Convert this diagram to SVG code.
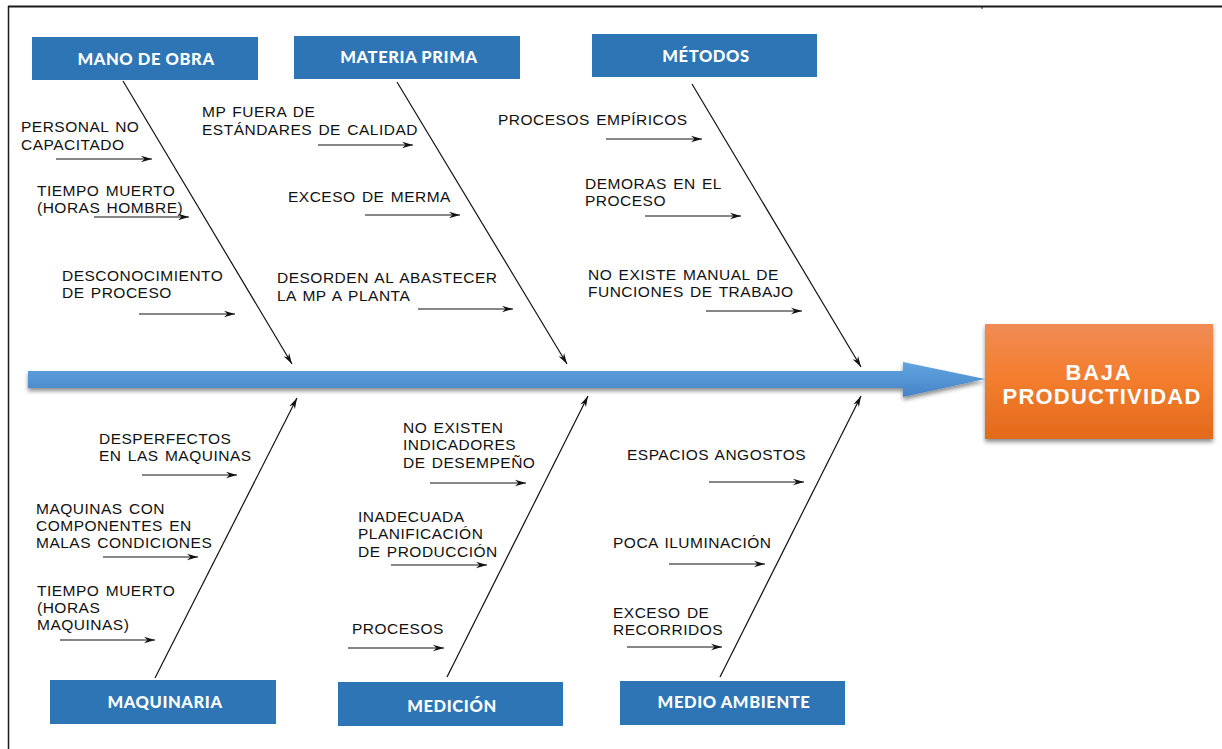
<svg xmlns="http://www.w3.org/2000/svg" width="1222" height="749" viewBox="0 0 1222 749">
<defs>
<style>
.cat{fill:#2E75B6;}
.ct{font-family:Lato,"Open Sans","DejaVu Sans",sans-serif;font-weight:900;font-size:16.5px;letter-spacing:0.6px;fill:#fff;text-anchor:middle;}
.lb{font-family:"Liberation Sans",Arial,sans-serif;font-size:15.5px;letter-spacing:0.5px;word-spacing:1.5px;fill:#111;}
.sm{stroke:#111;stroke-width:1.2;fill:none;marker-end:url(#ah);}
.dg{stroke:#111;stroke-width:1.2;fill:none;marker-end:url(#ah);}
</style>
<marker id="ah" markerUnits="userSpaceOnUse" markerWidth="14" markerHeight="10" viewBox="-12 -5 14 10" refX="0" refY="0" orient="auto">
<path d="M0,0 L-11,-3.2 L-7.5,0 L-11,3.2 Z" fill="#111"/>
</marker>
<linearGradient id="gb" x1="0" y1="0" x2="0" y2="1">
<stop offset="0" stop-color="#62A5DF"/>
<stop offset="1" stop-color="#4584C8"/>
</linearGradient>
<linearGradient id="go" x1="0" y1="0" x2="0" y2="1">
<stop offset="0" stop-color="#EF8B55"/>
<stop offset="0.45" stop-color="#F47E2F"/>
<stop offset="1" stop-color="#E3691B"/>
</linearGradient>
<filter id="sh" x="-5%" y="-20%" width="110%" height="150%">
<feDropShadow dx="0" dy="3" stdDeviation="2" flood-color="#000" flood-opacity="0.45"/>
</filter>
</defs>
<rect width="1222" height="749" fill="#fff"/>
<g id="frame" stroke="#1a1a1a" fill="none">
<line x1="8" y1="6.5" x2="1222" y2="6.5" stroke-width="2.2"/>
<line x1="8.5" y1="6" x2="8.5" y2="749" stroke-width="1.5"/>
<line x1="982" y1="6" x2="982" y2="9" stroke-width="1"/>
</g>
<g id="spine">
<path d="M28,371 L903,371 L903,362 L985,379 L903,397 L903,388 L28,388 Z" fill="url(#gb)" filter="url(#sh)"/>
</g>
<g id="effect">
<rect x="985" y="324" width="228" height="115" fill="url(#go)" filter="url(#sh)"/>
<text x="1099" y="380" font-family="Liberation Sans,Arial,sans-serif" font-weight="bold" font-size="22" fill="#fff" text-anchor="middle" letter-spacing="1.8">BAJA</text>
<text x="1102" y="404" font-family="Liberation Sans,Arial,sans-serif" font-weight="bold" font-size="22" fill="#fff" text-anchor="middle" letter-spacing="1.2">PRODUCTIVIDAD</text>
</g>
<g id="connectors">
<line class="dg" x1="123" y1="81" x2="292" y2="364"/>
<line class="dg" x1="397" y1="82" x2="567" y2="364"/>
<line class="dg" x1="692" y1="84" x2="861" y2="367"/>
<line class="dg" x1="155" y1="678" x2="297" y2="398"/>
<line class="dg" x1="447" y1="677" x2="588" y2="396"/>
<line class="dg" x1="720" y1="677" x2="861" y2="396"/>
<line class="sm" x1="56" y1="159" x2="152" y2="159"/>
<line class="sm" x1="94" y1="217" x2="189" y2="217"/>
<line class="sm" x1="139" y1="314" x2="235" y2="314"/>
<line class="sm" x1="318" y1="145" x2="413" y2="145"/>
<line class="sm" x1="365" y1="215" x2="460" y2="215"/>
<line class="sm" x1="418" y1="309" x2="513" y2="309"/>
<line class="sm" x1="606" y1="139" x2="702" y2="139"/>
<line class="sm" x1="645" y1="216" x2="741" y2="216"/>
<line class="sm" x1="706" y1="311" x2="802" y2="311"/>
<line class="sm" x1="142" y1="475" x2="237" y2="475"/>
<line class="sm" x1="103" y1="557" x2="198" y2="557"/>
<line class="sm" x1="60" y1="640" x2="155" y2="640"/>
<line class="sm" x1="430" y1="483" x2="526" y2="483"/>
<line class="sm" x1="391" y1="565" x2="487" y2="565"/>
<line class="sm" x1="348" y1="648" x2="444" y2="648"/>
<line class="sm" x1="709" y1="482" x2="804" y2="482"/>
<line class="sm" x1="669" y1="564" x2="765" y2="564"/>
<line class="sm" x1="627" y1="647" x2="722" y2="647"/>
</g>
<g id="mano-de-obra">
<rect class="cat" x="32" y="37" width="226" height="43"/>
<text class="ct" x="146" y="65">MANO DE OBRA</text>
</g>
<g id="materia-prima">
<rect class="cat" x="294" y="36" width="226" height="43"/>
<text class="ct" x="409" y="63">MATERIA PRIMA</text>
</g>
<g id="metodos">
<rect class="cat" x="592" y="34" width="225" height="43"/>
<text class="ct" x="706" y="62">MÉTODOS</text>
</g>
<g id="maquinaria">
<rect class="cat" x="50" y="680" width="226" height="44"/>
<text class="ct" x="165" y="708">MAQUINARIA</text>
</g>
<g id="medicion">
<rect class="cat" x="338" y="682" width="225" height="44"/>
<text class="ct" x="452" y="712">MEDICIÓN</text>
</g>
<g id="medio-ambiente">
<rect class="cat" x="620" y="681" width="225" height="44"/>
<text class="ct" x="734" y="708">MEDIO AMBIENTE</text>
</g>
<g id="causes-mano-de-obra">
<text class="lb" x="21" y="132">PERSONAL NO</text>
<text class="lb" x="21" y="150">CAPACITADO</text>
<text class="lb" x="37" y="196">TIEMPO MUERTO</text>
<text class="lb" x="37" y="213">(HORAS HOMBRE)</text>
<text class="lb" x="62" y="281">DESCONOCIMIENTO</text>
<text class="lb" x="62" y="298">DE PROCESO</text>
</g>
<g id="causes-materia-prima">
<text class="lb" x="202" y="117">MP FUERA DE</text>
<text class="lb" x="202" y="135">ESTÁNDARES DE CALIDAD</text>
<text class="lb" x="288" y="202">EXCESO DE MERMA</text>
<text class="lb" x="277" y="283">DESORDEN AL ABASTECER</text>
<text class="lb" x="277" y="301">LA MP A PLANTA</text>
</g>
<g id="causes-metodos">
<text class="lb" x="498" y="125">PROCESOS EMPÍRICOS</text>
<text class="lb" x="585" y="189">DEMORAS EN EL</text>
<text class="lb" x="585" y="206">PROCESO</text>
<text class="lb" x="588" y="280">NO EXISTE MANUAL DE</text>
<text class="lb" x="588" y="297">FUNCIONES DE TRABAJO</text>
</g>
<g id="causes-maquinaria">
<text class="lb" x="99" y="444">DESPERFECTOS</text>
<text class="lb" x="99" y="461">EN LAS MAQUINAS</text>
<text class="lb" x="36" y="514">MAQUINAS CON</text>
<text class="lb" x="36" y="531">COMPONENTES EN</text>
<text class="lb" x="36" y="548">MALAS CONDICIONES</text>
<text class="lb" x="37" y="596">TIEMPO MUERTO</text>
<text class="lb" x="37" y="613">(HORAS</text>
<text class="lb" x="37" y="630">MAQUINAS)</text>
</g>
<g id="causes-medicion">
<text class="lb" x="403" y="433">NO EXISTEN</text>
<text class="lb" x="403" y="450">INDICADORES</text>
<text class="lb" x="403" y="468">DE DESEMPEÑO</text>
<text class="lb" x="358" y="522">INADECUADA</text>
<text class="lb" x="358" y="539">PLANIFICACIÓN</text>
<text class="lb" x="358" y="557">DE PRODUCCIÓN</text>
<text class="lb" x="352" y="634">PROCESOS</text>
</g>
<g id="causes-medio-ambiente">
<text class="lb" x="627" y="460">ESPACIOS ANGOSTOS</text>
<text class="lb" x="613" y="548">POCA ILUMINACIÓN</text>
<text class="lb" x="613" y="618">EXCESO DE</text>
<text class="lb" x="613" y="635">RECORRIDOS</text>
</g>
</svg>
